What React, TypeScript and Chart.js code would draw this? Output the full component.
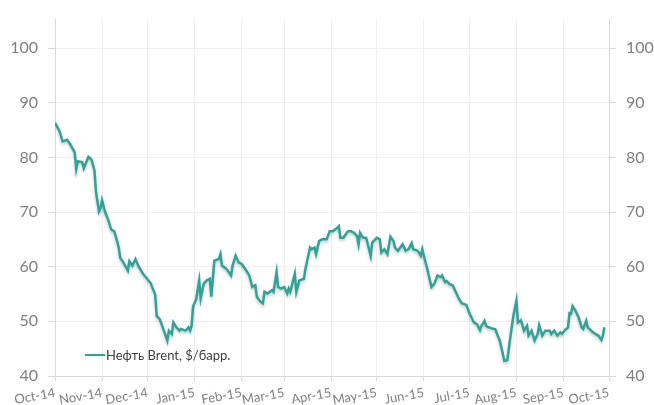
import { useEffect, useRef } from "react";
import { Chart, registerables } from "chart.js";

Chart.register(...registerables);

// month ticks, x axis runs in days from 1 Oct 2014
const monthLabels = [
  "Oct-14", "Nov-14", "Dec-14", "Jan-15", "Feb-15", "Mar-15", "Apr-15",
  "May-15", "Jun-15", "Jul-15", "Aug-15", "Sep-15", "Oct-15",
];
const monthStartDays = [0, 31, 61, 92, 123, 151, 182, 212, 243, 273, 304, 335, 365];

const seriesName = "Нефть Brent, $/барр.";

const days = [
  0, 3, 5, 8, 10, 13, 14, 15, 18, 19, 22, 24, 26, 27, 29, 30, 31, 33, 35, 37,
  39, 40, 42, 43, 45, 48, 49, 51, 53, 55, 58, 63, 66, 67, 69, 71, 74, 75, 77, 78,
  80, 82, 83, 86, 88, 89, 90, 91, 93, 95, 96, 98, 100, 102, 103, 105, 108, 109, 110, 113,
  116, 117, 119, 121, 123, 126, 128, 130, 132, 133, 135, 137, 138, 140, 143, 144, 146, 147, 149, 151,
  153, 154, 155, 158, 159, 161, 164, 165, 168, 169, 171, 172, 174, 176, 179, 181, 183, 186, 187, 188,
  190, 193, 195, 197, 199, 200, 201, 203, 205, 208, 209, 212, 214, 215, 217, 219, 221, 223, 224, 226,
  229, 231, 233, 235, 236, 239, 241, 242, 243, 245, 248, 250, 252, 254, 255, 257, 258, 260, 262, 264,
  266, 268, 271, 273, 276, 278, 280, 281, 283, 284, 285, 288, 290, 293, 295, 296, 298, 300, 302, 304,
  305, 307, 309, 311, 312, 314, 316, 318, 319, 321, 323, 326, 327, 329, 331, 333, 334, 336, 338, 339,
  340, 341, 343, 345, 347, 348, 350, 351, 354, 356, 358, 360, 361, 362,
];

const brentPrices = [
  86.3, 84.8, 82.9, 83.2, 82.4, 80.9, 77.9, 79.3, 79.1, 78.0, 80.1, 79.6, 77.6, 73.7, 70.1, 70.7, 72.2, 70.0, 68.6, 66.8,
  66.5, 65.6, 63.5, 61.6, 60.8, 59.3, 61.0, 60.2, 61.4, 60.1, 58.7, 57.0, 54.9, 51.0, 50.4, 48.9, 46.5, 48.3, 47.7, 49.8,
  48.9, 48.3, 48.6, 48.3, 48.9, 48.3, 49.2, 52.8, 54.0, 57.5, 54.2, 56.9, 57.5, 57.8, 54.5, 61.1, 61.4, 62.3, 60.2, 59.6,
  58.4, 60.2, 62.0, 60.8, 60.5, 59.3, 58.4, 56.3, 56.6, 54.5, 53.7, 53.3, 55.4, 55.1, 55.7, 55.4, 59.0, 56.3, 56.0, 56.3,
  55.1, 56.0, 55.4, 58.7, 55.4, 57.5, 57.8, 59.6, 63.5, 63.2, 63.5, 62.3, 64.7, 65.0, 65.0, 66.5, 66.5, 67.1, 67.4, 65.3,
  65.3, 66.5, 66.5, 66.2, 65.6, 64.1, 66.2, 65.3, 65.3, 62.0, 64.4, 65.3, 65.0, 62.6, 63.2, 62.3, 65.5, 64.7, 63.5, 62.9,
  64.1, 62.9, 63.2, 64.3, 63.2, 62.9, 62.0, 63.2, 62.0, 59.9, 56.3, 56.9, 58.4, 58.1, 58.4, 57.2, 57.4, 56.8, 56.6, 55.4,
  54.2, 53.3, 53.0, 51.5, 49.8, 49.5, 48.4, 49.2, 50.1, 49.2, 49.0, 48.7, 48.6, 46.5, 44.1, 42.8, 42.9, 47.1, 51.0, 53.8,
  49.8, 50.2, 48.3, 49.2, 47.4, 48.3, 46.5, 47.7, 49.3, 47.4, 48.3, 48.3, 47.7, 48.3, 47.4, 48.0, 47.7, 48.4, 48.9, 51.5,
  51.4, 52.8, 51.9, 50.7, 48.9, 48.6, 50.1, 48.9, 48.1, 47.7, 47.4, 46.6, 47.5, 48.9,
];

const lineColor = "#2fa398";
const gridColor = "#efefef";
const axisColor = "#d9d9d9";
const labelColor = "#808080";

// soft drop shadow under the line, like the original
const lineShadow = {
  id: "lineShadow",
  beforeDatasetDraw(chart: Chart) {
    const ctx = chart.ctx;
    ctx.save();
    ctx.shadowColor = "rgba(0,0,0,0.22)";
    ctx.shadowBlur = 3;
    ctx.shadowOffsetY = 2;
  },
  afterDatasetDraw(chart: Chart) {
    chart.ctx.restore();
  },
};

export default function App() {
  const canvasRef = useRef<HTMLCanvasElement>(null);

  useEffect(() => {
    if (!canvasRef.current) return;

    const points = days.map((d, i) => ({ x: d, y: brentPrices[i] }));

    const yAxis = (position: "left" | "right", width: number, onChart: boolean) => ({
      type: "linear" as const,
      position,
      min: 40,
      max: 105.2,
      grid: {
        color: gridColor,
        tickColor: axisColor,
        tickLength: 7,
        drawOnChartArea: onChart,
      },
      border: { color: axisColor },
      ticks: {
        stepSize: 10,
        includeBounds: false,
        padding: 10,
        color: labelColor,
        font: { family: "Lato", size: 16 },
      },
      afterFit: (scale: any) => {
        scale.width = width;
      },
    });

    const chart = new Chart(canvasRef.current, {
      type: "line",
      data: {
        datasets: [
          {
            label: seriesName,
            data: points,
            borderColor: lineColor,
            backgroundColor: lineColor,
            borderWidth: 2.5,
            pointRadius: 0,
            tension: 0,
          },
        ],
      },
      plugins: [lineShadow],
      options: {
        animation: false,
        responsive: true,
        maintainAspectRatio: false,
        layout: { padding: { top: 13 } },
        plugins: {
          legend: { display: false },
          tooltip: { enabled: false },
        },
        scales: {
          x: {
            type: "linear",
            min: 0,
            max: 365,
            grid: { color: gridColor, tickColor: axisColor, tickLength: 5 },
            border: { color: axisColor },
            afterBuildTicks: (scale: any) => {
              scale.ticks = monthStartDays.map((v) => ({ value: v }));
            },
            ticks: {
              autoSkip: false,
              minRotation: 10,
              maxRotation: 10,
              padding: 4,
              color: labelColor,
              font: { family: "Lato", size: 13 },
              callback: (v: any) => monthLabels[monthStartDays.indexOf(Number(v))],
            },
            afterFit: (scale: any) => {
              scale.height = 29;
              scale.paddingLeft = 0;
              scale.paddingRight = 0;
            },
          },
          y: yAxis("left", 55, true),
          y2: yAxis("right", 45, false),
        },
      },
    });

    return () => {
      chart.destroy();
    };
  }, []);

  return (
    <div
      style={{
        position: "fixed",
        left: 0,
        top: 0,
        width: 654,
        height: 405,
        background: "#fff",
      }}
    >
      <canvas ref={canvasRef} />
      <div
        style={{
          position: "absolute",
          left: 85,
          top: 347,
          display: "flex",
          alignItems: "center",
          fontFamily: "Lato",
          fontSize: 13,
          color: "#404040",
        }}
      >
        <span
          style={{
            display: "inline-block",
            width: 20,
            height: 2.5,
            background: lineColor,
            marginRight: 1,
          }}
        />
        {seriesName}
      </div>
    </div>
  );
}
